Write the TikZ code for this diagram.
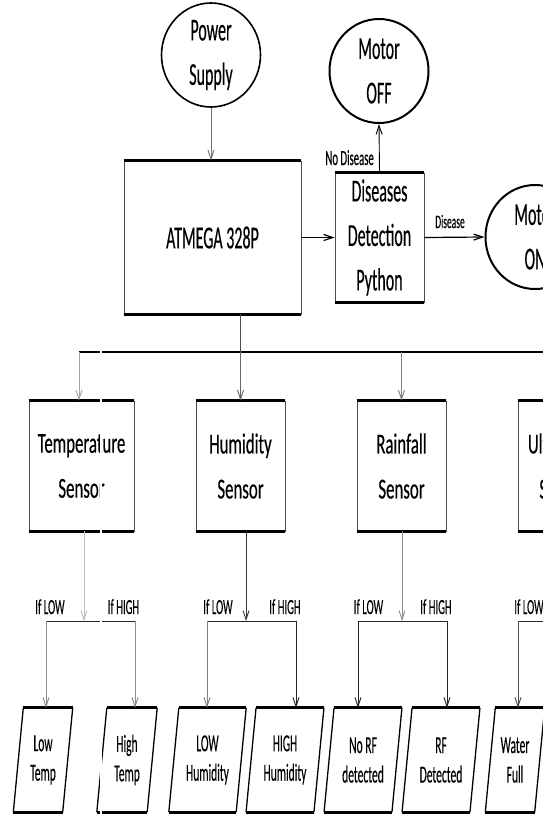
\documentclass[tikz,border=0pt]{standalone}
\usepackage{fontspec}
\setmainfont{Carlito}
\newfontfamily\fbig[FakeStretch=0.50,FakeBold=0.3]{Carlito}
\newfontfamily\fsen[FakeStretch=0.58,FakeBold=0.3]{Carlito}
\newfontfamily\flab[FakeStretch=0.50,FakeBold=0.2]{Carlito}
\newfontfamily\fpar[FakeStretch=0.47,FakeBold=0.2]{Carlito}
\usetikzlibrary{shapes.geometric,arrows.meta,calc}
\tikzset{
  bigtxt/.style={font=\fbig\fontsize{32}{44.5}\selectfont, align=center},
  sentxt/.style={font=\fsen\fontsize{29}{45}\selectfont, align=center},
  partxt/.style={font=\fpar\fontsize{24.5}{29.5}\selectfont, align=center},
  lbl/.style={font=\flab\fontsize{21.5}{24}\selectfont, inner sep=0pt},
  circ/.style={ellipse, draw=black, line width=2pt, inner sep=0pt, minimum width=99pt, minimum height=104pt},
  box/.style={rectangle, draw=black!70, line width=0.9pt, inner sep=0pt},
  pbox/.style={rectangle, inner sep=0pt, minimum height=104pt},
  thickedge/.style={line width=3.2pt, draw=black},
  paraside/.style={line width=1.3pt, draw=black},
  conn/.style={line width=0.9pt, draw=black!75},
  arr/.style={conn, -{Straight Barb[length=9pt,width=6pt]}},
}
\newcommand\drawparal[1]{%
  \draw[paraside] ($(#1.north west)+(5pt,0pt)$) -- ($(#1.south west)+(-5pt,0pt)$);
  \draw[paraside] ($(#1.north east)+(5pt,0pt)$) -- ($(#1.south east)+(-5pt,0pt)$);
  \draw[thickedge] ($(#1.north west)+(5pt,0pt)$) -- ($(#1.north east)+(5pt,0pt)$);
  \draw[thickedge] ($(#1.south west)+(-5pt,0pt)$) -- ($(#1.south east)+(-5pt,0pt)$);}
\newcommand\thickbox[1]{%
  \draw[thickedge] (#1.north west) -- (#1.north east);
  \draw[thickedge] (#1.south west) -- (#1.south east);}
\begin{document}
\begin{tikzpicture}[x=1pt,y=-1pt]
\useasboundingbox (0,0) rectangle (543,814);
\clip (0,0) rectangle (543,814);
\fill[white] (0,0) rectangle (543,814);

% top part
\node[circ, line width=1.6pt, bigtxt] (power) at (211,55) {Power\\Supply};
\node[circ, bigtxt] (motoroff) at (379,71) {Motor\\OFF};
\node[circ, bigtxt] (motoron) at (535,237) {Motor\\ON};
\node[box, minimum width=177pt, minimum height=153pt, bigtxt] (atmega) at (212.5,237.5) {ATMEGA 328P};
\node[box, minimum width=89pt, minimum height=129pt, bigtxt] (disease) at (379.5,237.5) {Diseases\\Detection\\Python};
\thickbox{atmega}
\thickbox{disease}

\draw[arr, draw=black!55] (power.south) -- (power.south |- atmega.north);
\draw[arr, draw=black, line width=1.2pt] (atmega.east) -- (disease.west);
\draw[arr, draw=black] (disease.north) -- (motoroff.south);
\draw[arr, draw=black, line width=1.2pt] (disease.east) -- (motoron.west);
\node[lbl, anchor=base east] (nodis) at (374,165) {No Disease};
\node[lbl, font=\flab\fontsize{19}{20}\selectfont, anchor=base] (dis) at (450,228) {Disease};

% sensors
\node[box, minimum width=105pt, minimum height=130pt, sentxt] (temp) at (81.5,466) {Temperature\\Sensor};
\node[box, minimum width=89pt, minimum height=130pt, sentxt] (hum) at (240.5,466) {Humidity\\Sensor};
\node[box, minimum width=89pt, minimum height=130pt, sentxt] (rain) at (401.5,466) {Rainfall\\Sensor};
\node[box, minimum width=89pt, minimum height=130pt, sentxt] (ultra) at (562.5,466) {Ultrasonic\\Sensor};
\thickbox{temp}
\thickbox{hum}
\thickbox{rain}
\thickbox{ultra}

% bus
\coordinate (busL) at (79,352);
\coordinate (busR) at (560,352);
\draw[conn, draw=black, line width=1.5pt] (busL) -- (busR);
\draw[conn, draw=black!70] (hum.north |- atmega.south) -- (hum.north |- busL);
\draw[arr, draw=black!35] (busL) -- (busL |- temp.north);
\draw[arr, draw=black!60] (hum.north |- busL) -- (hum.north);
\draw[arr, draw=black!50] (rain.north |- busL) -- (rain.north);

% outputs
\node[pbox, minimum width=49pt, partxt] (lt) at (43,760) {Low\\Temp};
\node[pbox, minimum width=50pt, partxt] (ht) at (127,760) {High\\Temp};
\node[pbox, minimum width=67pt, partxt] (lh) at (207.5,760) {LOW\\Humidity};
\node[pbox, minimum width=67.5pt, partxt] (hh) at (285,760) {HIGH\\Humidity};
\node[pbox, minimum width=67.5pt, partxt] (nrf) at (363,760) {No RF\\detected};
\node[pbox, minimum width=67.5pt, partxt] (rf) at (441,760) {RF\\Detected};
\node[pbox, minimum width=49pt, partxt] (wf) at (515,760) {Water\\Full};
\drawparal{lt}
\drawparal{ht}
\drawparal{lh}
\drawparal{hh}
\drawparal{nrf}
\drawparal{rf}
\drawparal{wf}

% branches
\coordinate (tD) at (84,621);
\coordinate (hD) at (246,621);
\coordinate (rD) at (402,621);
\coordinate (tL) at (46,621);  \coordinate (tR) at (135,621);
\coordinate (hL) at (207,621); \coordinate (hR) at (296,621);
\coordinate (rL) at (358,621); \coordinate (rR) at (447,621);
\coordinate (uL) at (518,621); \coordinate (uR) at (607,621);

\draw[arr, draw=black!25] (tD |- temp.south) -- (tD);
\draw[arr, draw=black!80] (hD |- hum.south) -- (hD);
\draw[arr, draw=black!45] (rD |- rain.south) -- (rD);

\draw[conn, draw=black!85] (tL) -- (tR);
\draw[conn, draw=black!85] (hL) -- (hR);
\draw[conn, draw=black!85] (rL) -- (rR);
\draw[conn, draw=black!85] (uL) -- (uR);

\draw[arr, draw=black!45] (tL) -- (tL |- lt.north);
\draw[arr, draw=black!45] (tR) -- (tR |- ht.north);
\draw[arr, draw=black!50] (hL) -- (hL |- lh.north);
\draw[arr, draw=black!85] (hR) -- (hR |- hh.north);
\draw[arr, draw=black!85] (rL) -- (rL |- nrf.north);
\draw[arr, draw=black!85] (rR) -- (rR |- rf.north);
\draw[arr, draw=black!70] (uL) -- (uL |- wf.north);

\node[lbl, anchor=base] (tlow) at (50,614) {If LOW};
\node[lbl, anchor=base] (thigh) at (123.5,614) {If HIGH};
\node[lbl, anchor=base] (hlow) at (218,614) {If LOW};
\node[lbl, anchor=base] (hhigh) at (285,614) {If HIGH};
\node[lbl, anchor=base] (rlow) at (368.5,614) {If LOW};
\node[lbl, anchor=base] (rhigh) at (436,614) {If HIGH};
\node[lbl, anchor=base] (ulow) at (529,614) {If LOW};

% scan artefact: thin white vertical stripe
\draw[white, line width=1.8pt] (101,345) -- (101,814);
\end{tikzpicture}
\end{document}
